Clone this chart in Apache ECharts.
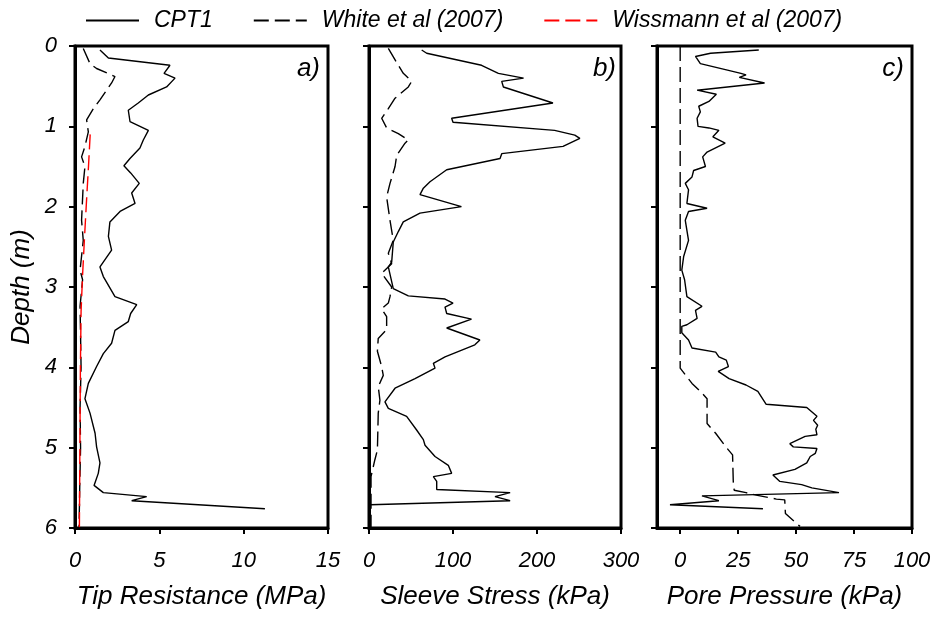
<!DOCTYPE html>
<html><head><meta charset="utf-8">
<script src="https://cdn.jsdelivr.net/npm/echarts@6/dist/echarts.min.js"></script>
<style>html,body{margin:0;padding:0;background:#fff}#c{width:939px;height:618px}</style>
</head><body><div id="c"></div>
<script>
// [value, depth(m)]
const cptTip = [[1.48,0.05],[1.98,0.15],[5.63,0.24],[5.28,0.34],[5.93,0.40],[5.43,0.51],[4.35,0.61],[3.75,0.71],[3.16,0.80],[3.26,0.94],[4.35,1.05],[4.05,1.17],[3.85,1.27],[3.26,1.40],[2.90,1.49],[3.30,1.58],[3.81,1.71],[3.36,1.83],[3.56,1.96],[2.67,2.06],[2.07,2.19],[1.98,2.37],[2.17,2.54],[1.48,2.75],[1.68,2.87],[2.37,3.12],[3.66,3.22],[3.30,3.33],[3.16,3.43],[2.37,3.54],[2.17,3.70],[1.68,3.83],[1.28,3.99],[0.79,4.20],[0.59,4.39],[0.89,4.57],[1.19,4.82],[1.28,4.99],[1.48,5.19],[1.38,5.32],[1.13,5.47],[1.68,5.56],[4.25,5.61],[3.36,5.66],[11.26,5.76]];
const whiteTip = [[0.49,0.03],[0.89,0.22],[1.28,0.28],[2.37,0.38],[2.17,0.46],[1.48,0.67],[1.09,0.78],[0.69,0.92],[0.79,1.07],[0.59,1.25],[0.39,1.38],[0.59,1.50],[0.49,1.71],[0.39,2.17],[0.49,2.42],[0.30,2.79],[0.45,2.91],[0.30,3.24],[0.33,3.6],[0.36,4.0],[0.30,4.5],[0.33,5.0],[0.28,5.5],[0.24,6.0]];
const wissmannTip = [[0.90,1.10],[0.80,1.50],[0.69,1.90],[0.56,2.40],[0.45,2.85],[0.36,3.30],[0.32,4.0],[0.29,5.0],[0.26,6.0]];
const cptSleeve = [[62.7,0.05],[68.7,0.09],[134,0.24],[154,0.34],[184,0.40],[158,0.44],[160,0.51],[219,0.71],[98.4,0.90],[100,0.95],[221,1.05],[245,1.11],[251,1.15],[231,1.25],[158,1.34],[156,1.40],[92.5,1.54],[72.6,1.69],[64.7,1.77],[60.7,1.85],[110,2.00],[60.7,2.08],[40.8,2.19],[34.9,2.31],[28.9,2.44],[27,2.69],[23,2.75],[28.9,3.02],[46.8,3.11],[90.5,3.15],[100,3.20],[90.5,3.25],[92.5,3.33],[122,3.40],[92.5,3.51],[132,3.66],[126,3.72],[90.5,3.87],[76.6,3.95],[78.6,4.01],[54.8,4.14],[31,4.26],[19,4.43],[23,4.51],[44.8,4.61],[56.7,4.78],[64.7,4.90],[66.7,4.97],[78.6,5.11],[94.4,5.22],[98.4,5.32],[76.6,5.36],[80.6,5.42],[80.6,5.52],[168,5.56],[150,5.61],[168,5.66],[1.2,5.71]];
const whiteSleeve = [[23,0.03],[34.9,0.24],[40.8,0.34],[50.8,0.44],[46.8,0.51],[31,0.65],[23,0.78],[15.1,0.90],[21,1.02],[34.9,1.09],[46.8,1.17],[42.9,1.21],[33,1.36],[31,1.50],[25,1.71],[21,1.88],[25,2.17],[28.9,2.42],[23,2.58],[27,2.71],[15.1,2.83],[27,3.00],[25,3.12],[23,3.20],[15,3.27],[21,3.37],[21,3.53],[11,3.64],[10,3.80],[15,3.99],[17,4.10],[11,4.24],[13,4.41],[11,4.57],[10,5.03],[7,5.15],[2.4,5.36],[2.4,6.0]];
const cptPore = [[33.9,0.05],[13.1,0.09],[6.6,0.13],[8.7,0.22],[20.4,0.30],[26.2,0.34],[28.4,0.36],[25.5,0.39],[36.4,0.46],[7.3,0.55],[15.6,0.60],[12.4,0.69],[8.0,0.75],[8.7,0.82],[7.3,0.90],[7.7,1.00],[12.4,1.02],[16.7,1.05],[14.1,1.13],[19.4,1.21],[11.6,1.32],[9.7,1.38],[10.9,1.50],[5.8,1.55],[5.1,1.63],[2.2,1.71],[3.6,1.79],[2.9,1.96],[11.6,2.02],[3.6,2.06],[2.2,2.17],[3.6,2.42],[1.5,2.62],[0.7,2.79],[1.9,2.91],[2.9,3.12],[9.4,3.24],[6.6,3.29],[7.3,3.39],[2.9,3.47],[0.7,3.49],[0.7,3.57],[3.6,3.66],[5.1,3.76],[15.3,3.81],[16.7,3.87],[19.9,3.91],[20.8,3.99],[16.4,4.05],[21.1,4.14],[28.4,4.22],[33.5,4.30],[37.1,4.46],[54.6,4.50],[59,4.61],[57.5,4.66],[59.3,4.72],[58.5,4.77],[59,4.84],[53.9,4.86],[47.3,4.95],[48.8,4.99],[59,5.01],[58.3,5.07],[56.1,5.11],[54.6,5.19],[49.5,5.27],[40,5.34],[43,5.42],[52.4,5.46],[56.8,5.50],[68.5,5.56],[9.4,5.60],[16.7,5.66],[-4.4,5.71],[35.7,5.76]];
const whitePore = [[0,0.0],[0,4.01],[5.1,4.20],[8.7,4.30],[11.6,4.39],[11.6,4.70],[15.3,4.82],[19.7,4.99],[22.6,5.09],[22.9,5.42],[23.3,5.53],[28.4,5.56],[32.8,5.59],[41.5,5.64],[45.1,5.65],[45.4,5.82],[51.7,5.98]];

const depthTicks = [0,1,2,3,4,5,6];
const tipTicks = [0,5,10,15];
const sleeveTicks = [0,100,200,300];
const poreTicks = [0,25,50,75,100];
const axisNames = ['Tip Resistance (MPa)','Sleeve Stress (kPa)','Pore Pressure (kPa)'];
const panelLabels = ['a)','b)','c)'];
const seriesNames = ['CPT1','White et al (2007)','Wissmann et al (2007)'];

const FONT = "'Liberation Sans', Arial, sans-serif";
const chart = echarts.init(document.getElementById('c'), null, {renderer:'canvas'});

const grids = [
  {left:75, top:46, width:253, height:482},
  {left:369, top:46, width:252, height:482},
  {left:657, top:46, width:255, height:482}
].map(g => Object.assign(g, {show:true, borderColor:'#000', borderWidth:3, backgroundColor:'transparent'}));

const xLim = [[0,15,tipTicks],[0,300,sleeveTicks],[-10,100,poreTicks]];
const xAxes = xLim.map((l,i) => ({
  type:'value', gridIndex:i, min:l[0], max:l[1],
  name: axisNames[i], nameLocation:'middle', nameGap:56,
  nameTextStyle:{fontFamily:FONT, fontStyle:'italic', fontSize:26, color:'#000'},
  axisLine:{show:true, onZero:false, lineStyle:{color:'#000', width:3}},
  axisTick:{show:true, inside:false, length:6, lineStyle:{color:'#000', width:2}, customValues:l[2]},
  axisLabel:{show:true, margin:22, fontFamily:FONT, fontStyle:'italic', fontSize:22, color:'#000', customValues:l[2]},
  splitLine:{show:false}
}));
const yAxes = [0,1,2].map(i => ({
  type:'value', gridIndex:i, min:0, max:6, interval:1, inverse:true,
  name: i===0 ? 'Depth (m)' : '', nameLocation:'middle', nameGap:40, nameRotate:90,
  nameTextStyle:{fontFamily:FONT, fontStyle:'italic', fontSize:26, color:'#000'},
  axisLine:{show:true, onZero:false, lineStyle:{color:'#000', width:3}},
  axisTick:{show:true, inside:false, length:6, lineStyle:{color:'#000', width:2}},
  axisLabel:{show:i===0, margin:18, fontFamily:FONT, fontStyle:'italic', fontSize:22, color:'#000'},
  splitLine:{show:false}
}));

function line(name, data, idx, color, dashed){
  return {name, type:'line', xAxisIndex:idx, yAxisIndex:idx, data, symbol:'none', showSymbol:false,
    clip:true, animation:false, silent:true,
    lineStyle:{color, width:1.4, type: dashed ? [15,6] : 'solid'}, itemStyle:{color}};
}

const series = [
  line(seriesNames[0], cptTip, 0, '#000', false),
  line(seriesNames[1], whiteTip, 0, '#000', true),
  line(seriesNames[2], wissmannTip, 0, '#ff0000', true),
  line(seriesNames[0], cptSleeve, 1, '#000', false),
  line(seriesNames[1], whiteSleeve, 1, '#000', true),
  line(seriesNames[0], cptPore, 2, '#000', false),
  line(seriesNames[1], whitePore, 2, '#000', true)
];

const titles = [320, 616, 904].map((r,i) => ({
  text: panelLabels[i], right: 939 - r, top: 56, padding:0,
  textStyle:{fontFamily:FONT, fontStyle:'italic', fontWeight:'normal', fontSize:26, color:'#000'}
}));

chart.setOption({
  animation:false,
  backgroundColor:'#fff',
  title: titles,
  legend:{data:seriesNames, left:80, top:4, itemWidth:53, itemHeight:14, itemGap:40,
    itemStyle:{opacity:0, borderWidth:0},
    textStyle:{fontFamily:FONT, fontStyle:'italic', fontSize:23, color:'#000', padding:[0,0,0,10]}},
  grid: grids, xAxis: xAxes, yAxis: yAxes, series
});
</script></body></html>
